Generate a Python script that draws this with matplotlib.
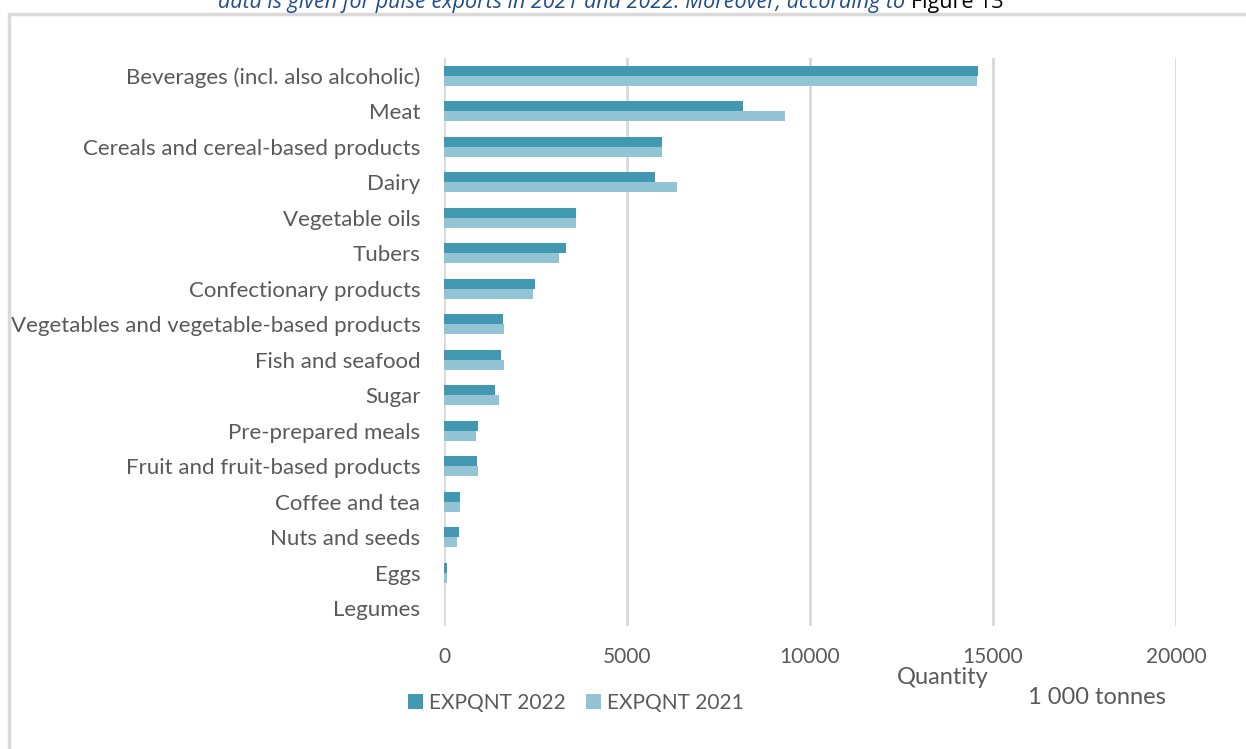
import matplotlib.pyplot as plt
import matplotlib.patches as patches
import numpy as np

# categories, top to bottom as in the chart
categories = ['Beverages (incl. also alcoholic)', 'Meat', 'Cereals and cereal-based products',
              'Dairy', 'Vegetable oils', 'Tubers', 'Confectionary products',
              'Vegetables and vegetable-based products', 'Fish and seafood', 'Sugar',
              'Pre-prepared meals', 'Fruit and fruit-based products', 'Coffee and tea',
              'Nuts and seeds', 'Eggs', 'Legumes']
exp_2022 = [14600, 8170, 5960, 5770, 3610, 3330, 2480, 1610, 1550, 1390, 940, 900, 430, 410, 75, 0]
exp_2021 = [14550, 9320, 5950, 6370, 3610, 3150, 2420, 1630, 1640, 1500, 870, 930, 430, 360, 75, 0]
xticks = [0, 5000, 10000, 15000, 20000]

c22 = '#4298b0'
c21 = '#93c4d5'
grey = '#595959'
plt.rcParams['font.family'] = ['Lato', 'DejaVu Sans']

fig = plt.figure(figsize=(12.46, 7.49), dpi=100)
W, H = 1246, 749

# outer chart frame (cut off at right and bottom)
fig.patches.append(patches.Rectangle((9 / W, -0.05), 1.1, 1 - 13.5 / H + 0.05,
                                     transform=fig.transFigure, fill=False,
                                     edgecolor='#d9d9d9', linewidth=2.5))

# text line of the surrounding document, cut off at the top like in the source
t = fig.text(218 / W, 1 - 8 / H, 'data is given for pulse exports in 2021 and 2022. Moreover, according to ',
             fontsize=15.5, style='italic', color='#1f4e8c', va='baseline', family=['Open Sans', 'DejaVu Sans'])
fig.canvas.draw()
bb = t.get_window_extent()
fig.text(bb.x1 / W, 1 - 8 / H, 'Figure 13', fontsize=15.5, color='black', va='baseline',
         family=['Open Sans', 'DejaVu Sans'])

ax = fig.add_axes([444 / W, 1 - 626 / H, (1176 - 444) / W, (626 - 58) / H])
y = np.arange(len(categories))
h = 0.28
ax.barh(y - h / 2, exp_2022, height=h, color=c22, label='EXPQNT 2022')
ax.barh(y + h / 2, exp_2021, height=h, color=c21, label='EXPQNT 2021')

ax.set_ylim(len(categories) - 0.5, -0.5)
ax.set_xlim(0, 20000)
ax.set_yticks(y)
ax.set_yticklabels(categories, fontsize=16, color=grey)
ax.set_xticks(xticks)
ax.set_xticklabels([str(v) for v in xticks], fontsize=15, color=grey)
ax.tick_params(length=0, axis='both')
ax.tick_params(axis='x', pad=15)
ax.tick_params(axis='y', pad=17)
for s in ax.spines.values():
    s.set_visible(False)
ax.grid(axis='x', color='#d9d9d9', linewidth=2)
ax.set_axisbelow(True)

fig.text(943 / W, 1 - 678 / H, 'Quantity', fontsize=17, color=grey, ha='center', va='center')
fig.text(1097 / W, 1 - 697 / H, '1 000 tonnes', fontsize=17, color=grey, ha='center', va='center')

fig.legend(loc='center', bbox_to_anchor=(576 / W, 1 - 703 / H), ncol=2, frameon=False,
           fontsize=15, handlelength=0.7, handleheight=0.7, handletextpad=0.3,
           columnspacing=1.0, labelcolor=grey)

fig.savefig('out.png', dpi=100)
